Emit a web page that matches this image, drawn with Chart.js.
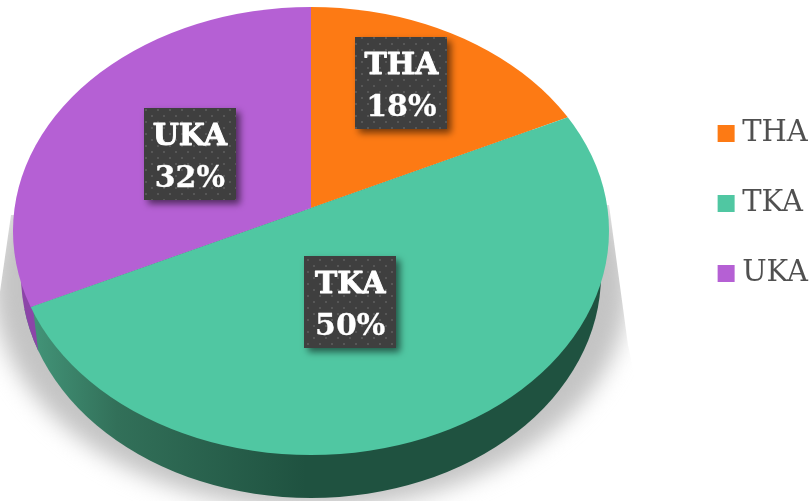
<!DOCTYPE html>
<html><head><meta charset="utf-8">
<style>html,body{margin:0;padding:0;background:#fff;overflow:hidden}#w{width:810px;height:501px;position:relative}</style>
<script src="https://cdn.jsdelivr.net/npm/chart.js@4"></script>
</head><body><div id="w"><canvas id="c" width="810" height="501"></canvas></div>
<script>
const categories = ['THA', 'TKA', 'UKA'];
const shares = [18, 50, 32];
const sliceColors = ['#FD7A14', '#50C7A2', '#B560D4'];

// layout of the tilted disc
const apex = {x: 311, y: 208}, squash = 0.75, purpleDrop = 50;
const topRim = {cx: 311, cy: 231, rx: 298, ry: 224};
const wallRim = {cx: 311, cy: 275, rx: 290, ry: 223};
const labelNudge = [{r: 150, dx: 10, dy: -30}, {r: 125, dx: -14, dy: 9}, {r: 140, dx: -3, dy: 2}];

function dotPattern(ctx) {
  const p = document.createElement('canvas'); p.width = 12; p.height = 12;
  const g = p.getContext('2d');
  g.fillStyle = '#3F3F3F'; g.fillRect(0, 0, 12, 12);
  g.fillStyle = '#575757';
  g.fillRect(1, 1, 2, 2); g.fillRect(7, 7, 2, 2);
  return ctx.createPattern(p, 'repeat');
}
function ellipsePath(ctx, e) { ctx.beginPath(); ctx.ellipse(e.cx, e.cy, e.rx, e.ry, 0, 0, Math.PI * 2); }
function place(ctx, arc, dropY) {
  ctx.translate(apex.x, apex.y + dropY);
  ctx.scale(1, squash);
  ctx.translate(-arc.x, -arc.y);
}
function drawWith(arc, ctx, color) {
  const o = arc.options;
  arc.options = Object.assign({}, o, {backgroundColor: color});
  arc.draw(ctx);
  arc.options = o;
}
function boldText(ctx, s, x, y, w) {
  ctx.fillText(s, x, y);
  ctx.strokeStyle = '#fff'; ctx.lineWidth = w; ctx.lineJoin = 'round';
  ctx.strokeText(s, x, y);
}
const discPlugin = {
  id: 'disc',
  beforeDatasetsDraw(chart) {
    const ctx = chart.ctx, arcs = chart.getDatasetMeta(0).data;
    // soft ground shadow
    ctx.save();
    ctx.beginPath();
    ctx.moveTo(11, 215); ctx.lineTo(609, 205); ctx.lineTo(628, 345); ctx.lineTo(660, 501);
    ctx.lineTo(-30, 501); ctx.closePath(); ctx.clip();
    ctx.filter = 'blur(11px)';
    ctx.fillStyle = '#C4C4C4';
    ctx.beginPath(); ctx.ellipse(311, 285, 318, 224, 0, 0, Math.PI * 2); ctx.fill();
    ctx.restore();
    // side wall: teal runs round the front
    ctx.save();
    ellipsePath(ctx, wallRim); ctx.clip();
    const base = arcs[0].x - apex.x;
    const grad = ctx.createLinearGradient(30 + base, 0, 320 + base, 0);
    grad.addColorStop(0, '#439579');
    grad.addColorStop(0.3, '#327059');
    grad.addColorStop(0.95, '#1F5240');
    grad.addColorStop(1, '#1F5240');
    ctx.save();
    place(ctx, arcs[0], 0);
    drawWith(arcs[1], ctx, grad);
    ctx.restore();
    // purple wall, only left of the seam
    ctx.beginPath();
    ctx.moveTo(28, 260); ctx.lineTo(33, 308); ctx.lineTo(39, 358); ctx.lineTo(0, 358); ctx.lineTo(0, 260); ctx.closePath(); ctx.clip();
    place(ctx, arcs[0], purpleDrop);
    drawWith(arcs[2], ctx, '#8C45A8');
    ctx.restore();
    // everything the library draws next lands on the tilted top face
    ctx.save();
    ellipsePath(ctx, topRim); ctx.clip();
    place(ctx, arcs[0], 0);
  },
  afterDatasetsDraw(chart) {
    const ctx = chart.ctx, arcs = chart.getDatasetMeta(0).data;
    ctx.restore();
    const pat = dotPattern(ctx);
    arcs.forEach((a, i) => {
      const mid = (a.startAngle + a.endAngle) / 2, n = labelNudge[i];
      const x = apex.x + Math.cos(mid) * n.r + n.dx;
      const y = apex.y + Math.sin(mid) * n.r * squash + n.dy;
      const bw = 92, bh = 92;
      ctx.save();
      ctx.shadowColor = 'rgba(0,0,0,0.55)'; ctx.shadowBlur = 7; ctx.shadowOffsetX = 4; ctx.shadowOffsetY = 4;
      ctx.fillStyle = pat;
      ctx.fillRect(Math.round(x - bw / 2), Math.round(y - bh / 2), bw, bh);
      ctx.restore();
      ctx.fillStyle = '#fff';
      ctx.textAlign = 'center'; ctx.textBaseline = 'alphabetic';
      ctx.font = 'bold 30px "DejaVu Serif"';
      boldText(ctx, categories[i], x, y - 9, 0.9);
      ctx.font = 'bold 30px "DejaVu Serif"';
      boldText(ctx, shares[i] + '%', x, y + 33, 0.3);
    });
  }
};
new Chart(document.getElementById('c'), {
  type: 'pie',
  data: {labels: categories, datasets: [{data: shares, backgroundColor: sliceColors, borderWidth: 0, clip: false, radius: 420}]},
  plugins: [discPlugin],
  options: {
    responsive: false, animation: false, events: [],
    layout: {padding: {right: -8, bottom: 94}},
    plugins: {
      tooltip: {enabled: false},
      legend: {position: 'right', labels: {usePointStyle: true, pointStyle: 'rect', boxWidth: 3, boxHeight: 17, padding: 41, color: '#505050', font: {family: '"DejaVu Serif"', size: 29}}}
    }
  }
});
</script></body></html>
